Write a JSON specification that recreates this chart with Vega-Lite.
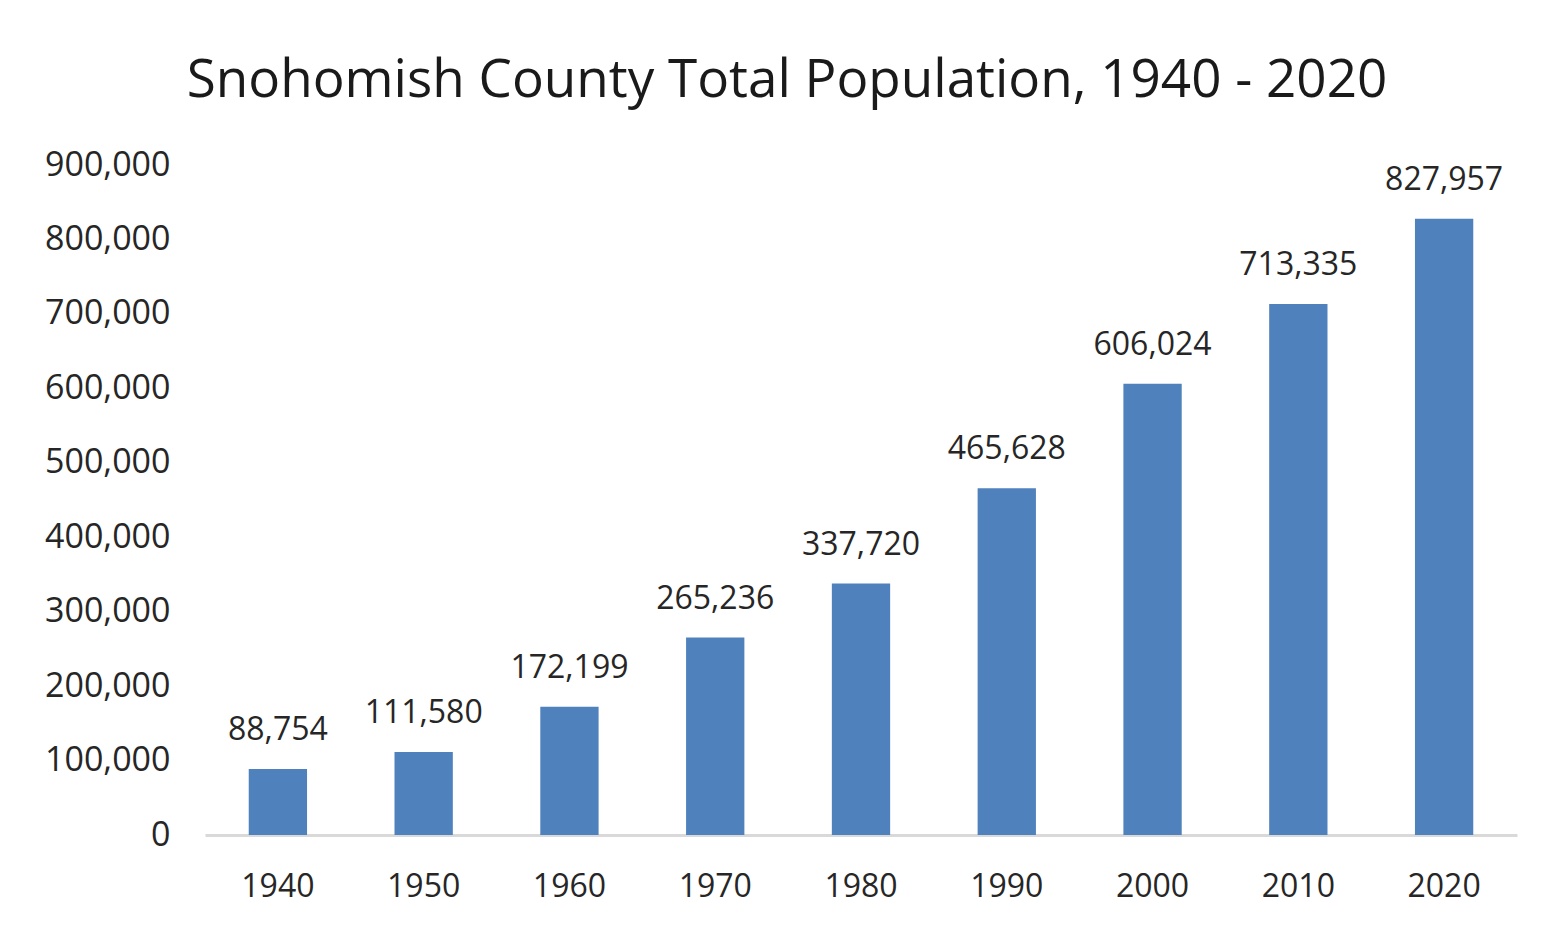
{
  "$schema": "https://vega.github.io/schema/vega-lite/v6.json",
  "width": 1312,
  "height": 670,
  "autosize": {"type": "none"},
  "padding": {"left": 205, "top": 165, "right": 44, "bottom": 99},
  "background": "white",
  "title": {
    "text": "Snohomish County Total Population, 1940 - 2020",
    "font": "Open Sans",
    "fontSize": 53,
    "fontWeight": "normal",
    "color": "#1a1a1a",
    "anchor": "middle",
    "dx": -74,
    "offset": 40
  },
  "data": {
    "values": [
      {"year": "1940", "population": 88754},
      {"year": "1950", "population": 111580},
      {"year": "1960", "population": 172199},
      {"year": "1970", "population": 265236},
      {"year": "1980", "population": 337720},
      {"year": "1990", "population": 465628},
      {"year": "2000", "population": 606024},
      {"year": "2010", "population": 713335},
      {"year": "2020", "population": 827957}
    ]
  },
  "encoding": {
    "x": {
      "field": "year",
      "type": "nominal",
      "sort": null,
      "scale": {"paddingInner": 0.6, "paddingOuter": 0.3},
      "axis": {
        "title": null,
        "labelAngle": 0,
        "labelFont": "Open Sans",
        "labelFontSize": 32,
        "labelColor": "#262626",
        "labelPadding": 36,
        "ticks": false,
        "domainColor": "#d9d9d9",
        "domainWidth": 3
      }
    },
    "y": {
      "field": "population",
      "type": "quantitative",
      "scale": {"domain": [0, 900000], "nice": false},
      "axis": {
        "title": null,
        "values": [0, 100000, 200000, 300000, 400000, 500000, 600000, 700000, 800000, 900000],
        "format": ",.0f",
        "grid": false,
        "domain": false,
        "ticks": false,
        "labelFont": "Open Sans",
        "labelFontSize": 34,
        "labelColor": "#262626",
        "labelPadding": 35
      }
    }
  },
  "layer": [
    {"mark": {"type": "bar", "color": "#4F81BD"}},
    {
      "mark": {
        "type": "text",
        "baseline": "bottom",
        "dy": -22,
        "font": "Open Sans",
        "fontSize": 32,
        "color": "#262626"
      },
      "encoding": {"text": {"field": "population", "type": "quantitative", "format": ","}}
    }
  ],
  "config": {"view": {"stroke": null}}
}
